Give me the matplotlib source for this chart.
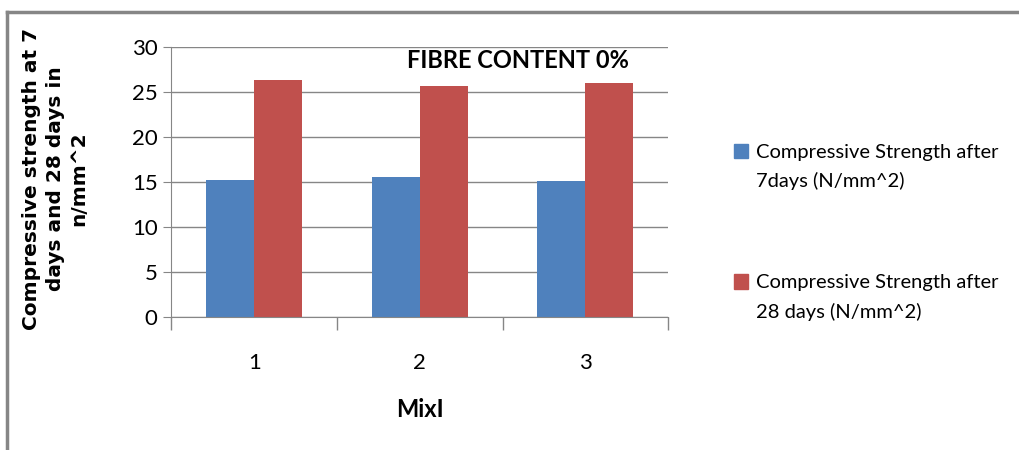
import matplotlib.pyplot as plt
import numpy as np
from matplotlib.patches import Patch, Rectangle
from matplotlib.lines import Line2D
from matplotlib.legend_handler import HandlerPatch

# data
mixes = ['1', '2', '3']
strength_7 = [15.2, 15.5, 15.1]
strength_28 = [26.3, 25.6, 26.0]
labels = ['Compressive Strength after\n7days (N/mm^2)',
          'Compressive Strength after\n28 days (N/mm^2)']

narrow = ['Lato', 'DejaVu Sans']
blue = '#4f81bd'
red = '#c0504d'
grey = '#868686'

fig = plt.figure(figsize=(10.2, 4.5), dpi=100)
ax = fig.add_axes([0.168, 0.296, 0.487, 0.6])

x = np.arange(len(mixes))
w = 0.29
ax.bar(x - w/2, strength_7, w, color=blue, zorder=2)
ax.bar(x + w/2, strength_28, w, color=red, zorder=2)

ax.set_xlim(-0.5, 2.5)
ax.set_ylim(0, 30)
ax.set_yticks(range(0, 31, 5))
ax.set_xticks(x)
ax.set_xticklabels(mixes, family=narrow, fontsize=16)
ax.set_xticks([-0.5, 0.5, 1.5, 2.5], minor=True)
ax.tick_params(axis='x', which='major', length=0, pad=26)
ax.tick_params(axis='x', which='minor', length=9, color=grey, width=1)
ax.tick_params(axis='y', length=6, color=grey, labelsize=16, pad=4)
for t in ax.get_yticklabels():
    t.set_family(narrow)
ax.grid(axis='y', color=grey, linewidth=1, zorder=0)
for s in ['top', 'right']:
    ax.spines[s].set_visible(False)
for s in ['left', 'bottom']:
    ax.spines[s].set_color(grey)

ax.set_xlabel('MixI', family=narrow, fontsize=17, fontweight='bold', labelpad=18)
fig.text(0.054, 0.602, 'Compressive strength at 7\ndays and 28 days in\nn/mm^2',
         rotation=90, ha='center', va='center', fontsize=14.5,
         fontweight='bold', linespacing=1.3)
fig.text(0.508, 0.865, 'FIBRE CONTENT 0%', family=narrow, fontsize=17,
         fontweight='bold', ha='center', va='center')


# legend squares sit beside the first line of each label
def top_square(legend, orig_handle, xdescent, ydescent, width, height, fontsize):
    return Rectangle((-xdescent, -ydescent + 0.8 * fontsize), width, height)


handles = [Patch(color=blue), Patch(color=red)]
leg = fig.legend(handles, labels, loc='center left', bbox_to_anchor=(0.702, 0.484),
                 frameon=False, prop={'family': narrow, 'size': 14.5},
                 handlelength=0.7, handleheight=0.7, handletextpad=0.4,
                 labelspacing=4.2,
                 handler_map={Patch: HandlerPatch(patch_func=top_square)})
for t in leg.get_texts():
    t.set_linespacing(1.75)

# outer frame (top and left edges visible)
fig.add_artist(Line2D([0.007, 1], [0.973, 0.973], color=grey, linewidth=2.5))
fig.add_artist(Line2D([0.007, 0.007], [0, 0.973], color=grey, linewidth=2.5))

fig.savefig('out.png', dpi=100)
